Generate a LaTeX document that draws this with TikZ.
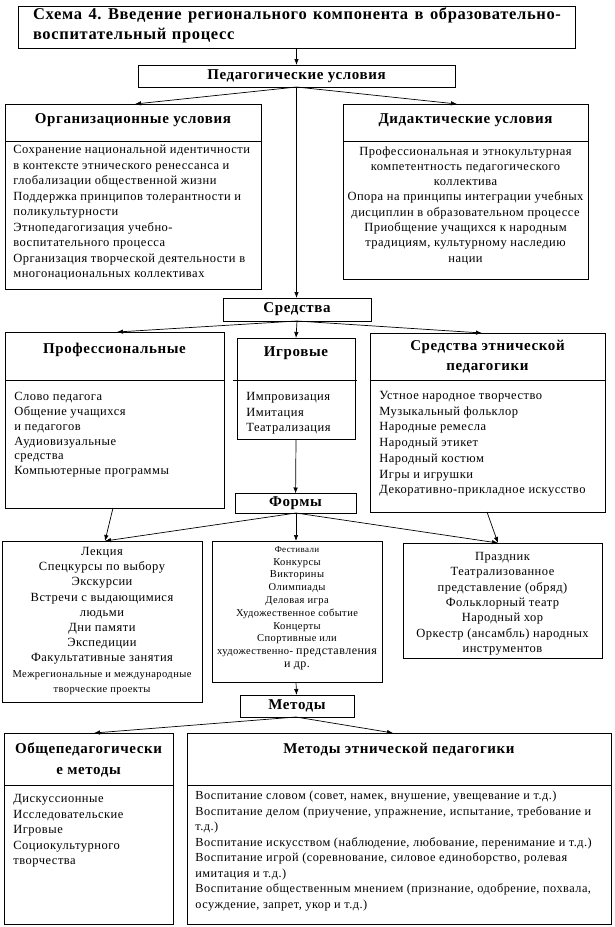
\documentclass[tikz,border=0pt]{standalone}
\usepackage{fontspec}
\setmainfont{Liberation Serif}[LetterSpace=4]
\usetikzlibrary{arrows.meta}

\tikzset{
  box/.style={draw, inner sep=0pt, outer sep=0pt},
  head/.style={font=\fontsize{15}{20}\selectfont\bfseries, inner sep=0pt, align=center},
  body/.style={font=\fontsize{12.5}{15.5}\selectfont, inner sep=0pt, align=left, anchor=north west},
  cbody/.style={body, align=center, anchor=north},
}

\begin{document}
\begin{tikzpicture}[x=1pt, y=-1pt, >={Latex[length=6pt,width=4.5pt]}, line width=0.7pt]
    \useasboundingbox (0,0) rectangle (614,927);

    % Title of the scheme
    \node[box, minimum width=557pt, minimum height=42pt] (title) at (296.5,27) {};
    \node[head, font=\fontsize{16.5}{20}\selectfont\bfseries, text width=528pt, align=left] (titletext) at (297,25)
        {\hbox to 528pt{Схема\hfill 4.\hfill Введение\hfill регионального\hfill компонента\hfill в\hfill образовательно-}\\воспитательный процесс};

    % Pedagogical conditions
    \node[box, head, minimum width=317pt, minimum height=22pt] (ped) at (296.5,76) {Педагогические условия};

    \node[box, minimum width=256pt, minimum height=185pt] (org) at (133,196.5) {};
    \draw (5,141) -- (261,141);
    \node[head] (orghead) at (133,120) {Организационные условия};
    \node[body] (orgbody) at (13,145) {Сохранение национальной идентичности\\
        в контексте этнического ренессанса и\\
        глобализации общественной жизни\\
        Поддержка принципов толерантности и\\
        поликультурности\\
        Этнопедагогизация учебно-\\
        воспитательного процесса\\
        Организация творческой деятельности  в\\
        многонациональных коллективах};

    \node[box, minimum width=245pt, minimum height=175pt] (did) at (465.5,191.5) {};
    \draw (343,141) -- (588,141);
    \node[head] (didhead) at (465.5,120) {Дидактические условия};
    \node[cbody, font=\fontsize{12.5}{15.3}\selectfont] (didbody) at (465.5,146) {Профессиональная и этнокультурная\\
        компетентность педагогического\\
        коллектива\\
        Опора на принципы интеграции учебных\\
        дисциплин в образовательном процессе\\
        Приобщение учащихся к народным\\
        традициям, культурному наследию\\
        нации};

    % Means
    \node[box, head, minimum width=148pt, minimum height=23pt] (sred) at (297,309.5) {Средства};

    \node[box, minimum width=219pt, minimum height=176pt] (prof) at (114.5,420) {};
    \draw (5,380) -- (224,380);
    \node[head] (profhead) at (114.5,350) {Профессиональные};
    \node[body, font=\fontsize{12.5}{14.8}\selectfont] (profbody) at (14,392) {Слово педагога\\
        Общение учащихся\\
        и педагогов\\
        Аудиовизуальные\\
        средства\\
        Компьютерные программы};

    \node[box, minimum width=118pt, minimum height=101pt] (igr) at (296,388.5) {};
    \draw (233,380) -- (357,380);
    \node[head] (igrhead) at (296,353) {Игровые};
    \node[body] (igrbody) at (246,392) {Импровизация\\Имитация\\Театрализация};

    \node[box, minimum width=235pt, minimum height=179pt] (eth) at (487.5,422.5) {};
    \draw (370,380) -- (605,380);
    \node[head] (ethhead) at (487.5,357) {Средства этнической\\педагогики};
    \node[body, font=\fontsize{12.5}{15.7}\selectfont] (ethbody) at (379,391) {Устное народное творчество\\
        Музыкальный фольклор\\
        Народные ремесла\\
        Народный этикет\\
        Народный костюм\\
        Игры и игрушки\\
        Декоративно-прикладное искусство};

    % Forms
    \node[box, head, minimum width=121pt, minimum height=20pt] (formy) at (295.5,503.5) {Формы};

    \node[box, minimum width=200pt, minimum height=161pt] (formleft) at (102,621.5) {};
    \node[cbody, font=\fontsize{12.5}{15.2}\selectfont] (formleftbody) at (102,547) {Лекция\\
        Спецкурсы по выбору\\
        Экскурсии\\
        Встречи с выдающимися\\
        людьми\\
        Дни памяти\\
        Экспедиции\\
        Факультативные занятия\\
        {\fontsize{10.5}{15.2}\selectfont Межрегиональные и международные}\\
        {\fontsize{10.5}{15.2}\selectfont творческие проекты}};

    \node[box, minimum width=170pt, minimum height=141pt] (formmid) at (297,611.5) {};
    \node[cbody, font=\fontsize{10.5}{12.8}\selectfont] (formmidbody) at (297,546) {{\fontsize{9}{12.8}\selectfont Фестивали}\\
        Конкурсы\\
        Викторины\\
        Олимпиады\\
        Деловая игра\\
        Художественное событие\\
        Концерты\\
        Спортивные или\\
        художественно- {\fontsize{12}{12.8}\selectfont представления}\\
        {\fontsize{12}{12.8}\selectfont и др.}};

    \node[box, minimum width=199pt, minimum height=115pt] (formright) at (502.5,600.5) {};
    \node[cbody, font=\fontsize{12.5}{15.3}\selectfont] (formrightbody) at (502.5,552) {Праздник\\
        Театрализованное\\
        представление (обряд)\\
        Фольклорный театр\\
        Народный хор\\
        Оркестр (ансамбль) народных\\
        инструментов};

    % Methods
    \node[box, head, minimum width=114pt, minimum height=22pt] (met) at (297,706) {Методы};

    \node[box, minimum width=169pt, minimum height=191pt] (metgen) at (88.5,828.5) {};
    \draw (4,785) -- (173,785);
    \node[head, font=\fontsize{15}{21}\selectfont\bfseries] (metgenhead) at (88.5,760) {Общепедагогически\\е методы};
    \node[body] (metgenbody) at (13,794) {Дискуссионные\\
        Исследовательские\\
        Игровые\\
        Социокультурного\\
        творчества};

    \node[box, minimum width=424pt, minimum height=191pt] (meteth) at (399,828.5) {};
    \draw (187,785) -- (611,785);
    \node[head] (metethhead) at (399,750) {Методы этнической педагогики};
    \node[body, font=\fontsize{12.3}{15.5}\selectfont] (metethbody) at (195,791) {Воспитание словом (совет, намек, внушение, увещевание и т.д.)\\
        Воспитание делом (приучение, упражнение, испытание, требование и\\
        т.д.)\\
        Воспитание искусством (наблюдение, любование, перенимание и т.д.)\\
        Воспитание игрой (соревнование, силовое единоборство, ролевая\\
        имитация и т.д.)\\
        Воспитание общественным мнением (признание, одобрение, похвала,\\
        осуждение, запрет, укор и т.д.)};

    % Arrow ends on the box tops
    \coordinate (pedout) at (296.5,87);
    \coordinate (orgin) at (135,104);
    \coordinate (didin) at (457,104);
    \coordinate (sredin) at (296.5,298);
    \coordinate (sredout) at (297,321);
    \coordinate (profin) at (117,332);
    \coordinate (igrin) at (296,338);
    \coordinate (ethin) at (482,333);
    \coordinate (igrout) at (296,439);
    \coordinate (profout) at (113,508);
    \coordinate (ethout) at (487,512);
    \coordinate (formyout) at (296,513);
    \coordinate (leftin) at (105,541);
    \coordinate (midin) at (296,541);
    \coordinate (rightin) at (498,543);
    \coordinate (midout) at (296,682);
    \coordinate (metout) at (296,717);
    \coordinate (genin) at (94,733);
    \coordinate (ethmin) at (393,733);

    % Connectors
    \draw[->] (title) -- (ped);
    \draw[->] (pedout) -- (orgin);
    \draw[->] (pedout) -- (didin);
    \draw[->] (pedout) -- (sredin);
    \draw[->] (sredout) -- (profin);
    \draw[->] (sredout) -- (igrin);
    \draw[->] (sredout) -- (ethin);
    \draw[->] (igrout) -- (formy);
    \draw[->] (profout) -- (leftin);
    \draw[->] (formyout) -- (leftin);
    \draw[->] (formyout) -- (midin);
    \draw[->] (formyout) -- (rightin);
    \draw[->] (ethout) -- (rightin);
    \draw[->] (midout) -- (met);
    \draw[->] (metout) -- (genin);
    \draw[->] (metout) -- (ethmin);
\end{tikzpicture}
\end{document}
